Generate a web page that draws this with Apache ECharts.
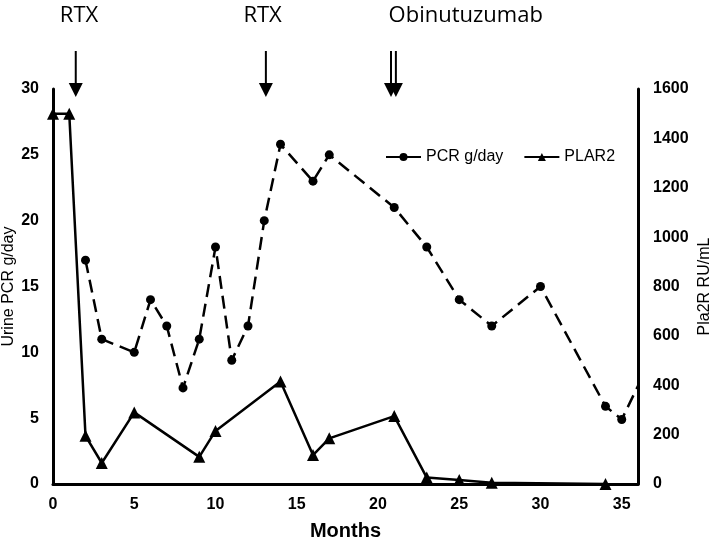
<!DOCTYPE html>
<html>
<head>
<meta charset="utf-8">
<script src="https://cdn.jsdelivr.net/npm/echarts@6/dist/echarts.min.js"></script>
<style>html,body{margin:0;padding:0;background:#fff;}#c{width:712px;height:538px;}</style>
</head>
<body>
<div id="c"></div>
<script>
const pcrMonths = [2, 3, 5, 6, 7, 8, 9, 10, 11, 12, 13, 14, 16, 17, 21, 23, 25, 27, 30, 34, 35, 37];
const pcrValues = [17, 11, 10, 14, 12, 7.3, 11, 18, 9.4, 12, 20, 25.8, 23, 25, 21, 18, 14, 12, 15, 5.9, 4.9, 10];
const plarMonths = [0, 1, 2, 3, 5, 9, 10, 14, 16, 17, 21, 23, 25, 27, 34];
const plarValues = [1500, 1500, 195, 85, 290, 110, 215, 415, 117, 185, 275, 26, 16, 5, 0];
const arrowMonths = [1.4, 13.1, 20.8, 21.1];
const annotLabels = ['RTX', 'RTX', 'Obinutuzumab'];
const annotMonths = [1.6, 12.9, 25.4];

const FONT = '"Liberation Sans", Arial, sans-serif';
const chart = echarts.init(document.getElementById('c'), null, {renderer: 'canvas'});

chart.setOption({
  animation: false,
  backgroundColor: '#fff',
  grid: {left: 53, right: 74, top: 89, bottom: 54, containLabel: false, outerBoundsMode: 'none'},
  legend: {
    left: 385, top: 149, padding: 0, itemWidth: 35, itemHeight: 10, itemGap: 20,
    lineStyle: {type: 'solid', width: 2, color: '#000'},
    textStyle: {fontSize: 16, color: '#000', fontFamily: FONT},
    data: ['PCR g/day', 'PLAR2']
  },
  xAxis: {
    type: 'value', min: 0, max: 36, interval: 5,
    name: 'Months', nameLocation: 'middle', nameGap: 37, nameMoveOverlap: false,
    nameTextStyle: {fontSize: 20, fontWeight: 'bold', color: '#000', fontFamily: FONT},
    axisLine: {lineStyle: {color: '#000', width: 3}},
    axisTick: {show: false},
    splitLine: {show: false},
    axisLabel: {fontSize: 16, fontWeight: 'bold', color: '#000', fontFamily: FONT, margin: 13,
      formatter: v => (v % 5 === 0 ? String(v) : '')}
  },
  yAxis: [{
    type: 'value', min: 0, max: 30, interval: 5, position: 'left',
    name: 'Urine PCR g/day', nameLocation: 'middle', nameRotate: 90, nameGap: 36, nameMoveOverlap: false,
    nameTextStyle: {fontSize: 16, color: '#000', fontFamily: FONT},
    axisLine: {show: true, lineStyle: {color: '#000', width: 3}},
    axisTick: {show: false}, splitLine: {show: false},
    axisLabel: {fontSize: 16, fontWeight: 'bold', color: '#000', fontFamily: FONT, margin: 14,
      formatter: v => String(v)}
  }, {
    type: 'value', min: 0, max: 1600, interval: 200, position: 'right',
    name: 'Pla2R RU/mL', nameLocation: 'middle', nameRotate: 90, nameGap: 59, nameMoveOverlap: false,
    nameTextStyle: {fontSize: 16, color: '#000', fontFamily: FONT},
    axisLine: {show: true, lineStyle: {color: '#000', width: 3}},
    axisTick: {show: false}, splitLine: {show: false},
    axisLabel: {fontSize: 16, fontWeight: 'bold', color: '#000', fontFamily: FONT, margin: 15,
      formatter: v => String(v)}
  }],
  series: [{
    name: 'PCR g/day', type: 'line', yAxisIndex: 0, clip: true,
    data: pcrMonths.map((m, i) => [m, pcrValues[i]]),
    symbol: 'circle', symbolSize: 9,
    itemStyle: {color: '#000'},
    lineStyle: {color: '#000', width: 2.5, type: [13, 7]}
  }, {
    name: 'PLAR2', type: 'line', yAxisIndex: 1, clip: true,
    data: plarMonths.map((m, i) => [m, plarValues[i]]),
    symbol: 'triangle', symbolSize: 12,
    itemStyle: {color: '#000'},
    lineStyle: {color: '#000', width: 2.5, type: 'solid'}
  }]
});

const graphics = [];
arrowMonths.forEach(m => {
  const x = chart.convertToPixel({xAxisIndex: 0}, m);
  graphics.push({type: 'line', shape: {x1: x, y1: 51, x2: x, y2: 85}, style: {stroke: '#000', lineWidth: 2}});
  graphics.push({type: 'polygon', shape: {points: [[x - 7, 83], [x + 7, 83], [x, 97]]}, style: {fill: '#000'}});
});
annotLabels.forEach((t, i) => {
  const x = chart.convertToPixel({xAxisIndex: 0}, annotMonths[i]);
  graphics.push({type: 'text', x: x, y: 16, style: {text: t, fill: '#000', font: '22px "Open Sans", sans-serif', textAlign: 'center', textVerticalAlign: 'middle'}});
});
chart.setOption({graphic: graphics});
</script>
</body>
</html>
